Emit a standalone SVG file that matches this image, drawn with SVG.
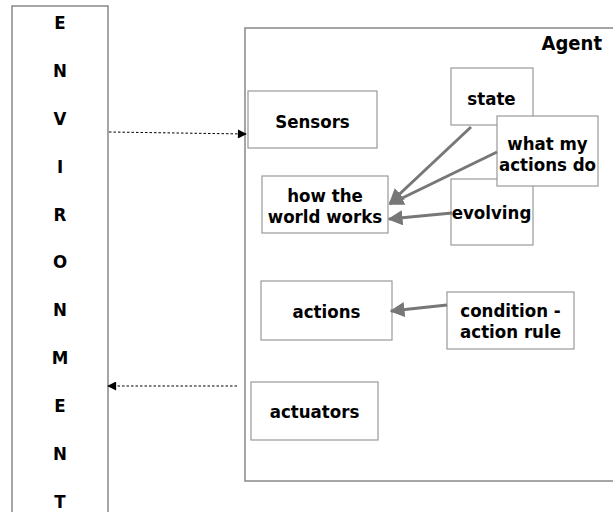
<svg xmlns="http://www.w3.org/2000/svg" width="613" height="512" viewBox="0 0 613 512">
<style>
.box{fill:#fff;stroke:#999;stroke-width:1.2}
.frame{fill:#fff;stroke:#888;stroke-width:1.5}
text{font-family:"DejaVu Sans Condensed","DejaVu Sans","Liberation Sans",sans-serif;font-weight:bold;font-size:18.5px;fill:#000;text-anchor:middle}
.env{font-size:18.5px}
.link{stroke:#777;stroke-width:3;fill:none}
.dot{stroke:#000;stroke-width:1;stroke-dasharray:2.5,2;fill:none}
</style>
<defs>
<marker id="ga" viewBox="0 0 10 10" refX="9" refY="5" markerWidth="5" markerHeight="5" orient="auto" markerUnits="strokeWidth"><path d="M0,0 L10,5 L0,10 z" fill="#777"/></marker>
<marker id="ba" viewBox="0 0 10 10" refX="9" refY="5" markerWidth="10" markerHeight="9" orient="auto" markerUnits="strokeWidth"><path d="M0,0 L10,5 L0,10 z" fill="#000"/></marker>
</defs>
<g id="environment">
<rect class="frame" x="12" y="6" width="96" height="520"/>
<text class="env" x="60" y="29">E</text>
<text class="env" x="60" y="77">N</text>
<text class="env" x="60" y="125">V</text>
<text class="env" x="60" y="173">I</text>
<text class="env" x="60" y="221">R</text>
<text class="env" x="60" y="268">O</text>
<text class="env" x="60" y="316">N</text>
<text class="env" x="60" y="364">M</text>
<text class="env" x="60" y="412">E</text>
<text class="env" x="60" y="460">N</text>
<text class="env" x="60" y="508">T</text>
</g>
<g id="agent">
<rect class="frame" x="245" y="28" width="380" height="453"/>
<text x="602" y="50" style="text-anchor:end;font-size:20px">Agent</text>
</g>
<g id="sensors"><rect class="box" x="248" y="91" width="129" height="57"/><text x="312.5" y="128">Sensors</text></g>
<g id="state"><rect class="box" x="451" y="68" width="82" height="57"/><text x="491.5" y="105">state</text></g>
<g id="evolving"><rect class="box" x="451" y="179" width="82" height="66"/><text x="491.5" y="219">evolving</text></g>
<g id="what-my-actions-do"><rect class="box" x="497" y="116" width="101" height="70"/><text x="547.5" y="150">what my</text><text x="547.5" y="171">actions do</text></g>
<g id="how-the-world-works"><rect class="box" x="262" y="176" width="126" height="57"/><text x="325" y="202">how the</text><text x="325" y="223">world works</text></g>
<g id="actions"><rect class="box" x="261" y="281" width="131" height="59"/><text x="326.5" y="318">actions</text></g>
<g id="condition-action-rule"><rect class="box" x="447" y="292" width="127" height="57"/><text x="510.5" y="317">condition -</text><text x="510.5" y="338">action rule</text></g>
<g id="actuators"><rect class="box" x="251" y="382" width="127" height="58"/><text x="314.5" y="418">actuators</text></g>
<g id="connectors">
<line class="link" x1="471" y1="127" x2="390" y2="203" marker-end="url(#ga)"/>
<line class="link" x1="497" y1="152" x2="390" y2="204" marker-end="url(#ga)"/>
<line class="link" x1="452" y1="213" x2="389" y2="219" marker-end="url(#ga)"/>
<line class="link" x1="447" y1="305" x2="391" y2="311" marker-end="url(#ga)"/>
<line class="dot" x1="109" y1="132" x2="246" y2="134" marker-end="url(#ba)"/>
<line class="dot" x1="237" y1="386" x2="108" y2="386" marker-end="url(#ba)"/>
</g>
</svg>
